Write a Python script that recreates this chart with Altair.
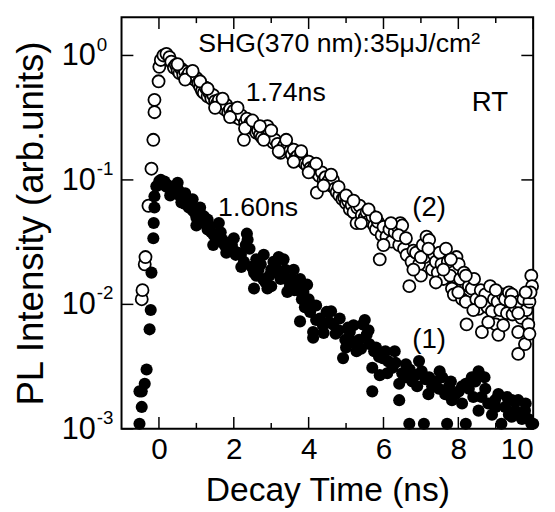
import altair as alt
import pandas as pd

# ---- data ----
# series (2): open circles
t2 = [
    -0.46, -0.44, -0.38, -0.36, -0.28, -0.20, -0.15, -0.12, -0.12, -0.01,
    0.01, 0.05, 0.12, 0.20, 0.28, 0.33, 0.40, 0.45, 0.50, 0.55,
    0.60, 0.65, 0.70, 0.75, 0.80, 0.85, 0.90, 0.95, 1.00, 1.05,
    1.10, 1.15, 1.20, 1.25, 1.30, 1.35, 1.40, 1.45, 1.50, 1.55,
    1.60, 1.65, 1.70, 1.75, 1.80, 1.85, 1.90, 1.95, 2.00, 2.05,
    2.10, 2.15, 2.20, 2.27, 2.30, 2.35, 2.40, 2.45, 2.50, 2.55,
    2.60, 2.65, 2.70, 2.75, 2.85, 2.90, 2.95, 3.00, 3.05, 3.10,
    3.17, 3.25, 3.30, 3.35, 3.43, 3.50, 3.55, 3.60, 3.65, 3.70,
    3.75, 3.80, 3.85, 3.90, 3.96, 4.00, 4.05, 4.10, 4.15, 4.22,
    4.22, 4.28, 4.35, 4.40, 4.45, 4.50, 4.55, 4.60, 4.65, 4.70,
    4.75, 4.82, 4.90, 4.95, 5.00, 5.05, 5.10, 5.15, 5.20, 5.28,
    5.30, 5.36, 5.42, 5.50, 5.55, 5.62, 5.70, 5.75, 5.80, 5.85,
    5.90, 5.95, 6.00, 6.08, 6.16, 6.22, 6.30, 6.38, 6.45, 6.50,
    6.42, 6.55, 6.62, 6.69, 6.75, 6.80, 6.87, 6.95, 7.00, 7.05,
    7.10, 7.15, 7.22, 7.30, 7.35, 7.40, 7.45, 7.50, 7.55, 7.60,
    7.67, 7.72, 7.78, 7.83, 7.88, 7.95, 8.01, 8.05, 8.10, 8.15,
    8.20, 8.22, 8.28, 8.36, 8.42, 8.48, 8.54, 8.60, 8.63, 8.72,
    8.78, 8.85, 8.90, 8.95, 9.00, 9.05, 9.07, 9.12, 9.18, 9.25,
    9.30, 9.35, 9.43, 9.45, 9.52, 9.60, 9.62, 9.60, 9.68, 9.74,
    9.78, 9.82, 9.87, 9.90, 9.95, 9.97, 9.93,
    0.50, 0.70, 0.90, 1.10, 1.30, 1.50, 1.70, 1.90, 2.10, 2.30,
    2.50, 2.70, 2.80, 3.00, 3.20, 3.40, 3.60, 3.80, 4.00, 4.20,
    4.40, 4.60, 4.80, 5.00, 5.20, 5.40, 5.60, 5.80, 6.00, 6.20,
    6.40, 6.60, 6.80, 7.00, 7.20, 7.40, 7.60, 7.80, 8.00, 8.20,
    8.40, 8.60, 8.80, 9.00, 9.20, 9.40, 9.60, 9.80, 9.90,
]
v2 = [
    0.011, 0.013, 0.021, 0.024, 0.062, 0.123, 0.21, 0.35, 0.44, 0.62,
    0.81, 0.92, 1.0, 1.03, 0.97, 0.89, 0.80, 0.84, 0.76, 0.72,
    0.78, 0.70, 0.74, 0.68, 0.72, 0.66, 0.70, 0.64, 0.66, 0.60,
    0.56, 0.52, 0.50, 0.55, 0.47, 0.50, 0.45, 0.48, 0.43, 0.41,
    0.44, 0.39, 0.41, 0.37, 0.40, 0.35, 0.37, 0.34, 0.36, 0.32,
    0.34, 0.31, 0.33, 0.21, 0.29, 0.31, 0.27, 0.29, 0.26, 0.27,
    0.24, 0.25, 0.23, 0.22, 0.26, 0.27, 0.24, 0.22, 0.20, 0.21,
    0.195, 0.165, 0.18, 0.19, 0.185, 0.17, 0.16, 0.175, 0.15, 0.155,
    0.145, 0.16, 0.14, 0.135, 0.13, 0.14, 0.125, 0.12, 0.128, 0.079,
    0.113, 0.108, 0.115, 0.10, 0.105, 0.095, 0.10, 0.09, 0.10, 0.085,
    0.08, 0.075, 0.07, 0.072, 0.065, 0.068, 0.058, 0.063, 0.055, 0.045,
    0.06, 0.062, 0.052, 0.05, 0.055, 0.047, 0.051, 0.043, 0.040, 0.046,
    0.023, 0.036, 0.042, 0.035, 0.040, 0.032, 0.038, 0.042, 0.045, 0.043,
    0.030, 0.028, 0.025, 0.014, 0.022, 0.027, 0.026, 0.021, 0.017, 0.030,
    0.024, 0.035, 0.033, 0.019, 0.025, 0.022, 0.018, 0.026, 0.021, 0.016,
    0.028, 0.022, 0.017, 0.0134, 0.012, 0.024, 0.021, 0.016, 0.011, 0.018,
    0.0105, 0.0069, 0.014, 0.0134, 0.016, 0.011, 0.0092, 0.013, 0.006, 0.012,
    0.0095, 0.014, 0.0088, 0.011, 0.0069, 0.0105, 0.0057, 0.009, 0.012, 0.011,
    0.0085, 0.0125, 0.012, 0.0083, 0.0095, 0.006, 0.0105, 0.004, 0.0078, 0.011,
    0.0048, 0.009, 0.0069, 0.0105, 0.017, 0.014, 0.0125,
    0.85, 0.64, 0.75, 0.62, 0.54, 0.38, 0.45, 0.32, 0.38, 0.26,
    0.30, 0.27, 0.21, 0.25, 0.17, 0.21, 0.14, 0.17, 0.115, 0.135,
    0.09, 0.11, 0.088, 0.075, 0.068, 0.045, 0.058, 0.05, 0.03, 0.045,
    0.036, 0.034, 0.019, 0.024, 0.028, 0.015, 0.019, 0.023, 0.0125, 0.017,
    0.009, 0.0105, 0.0072, 0.013, 0.0068, 0.0105, 0.0085, 0.0125, 0.0058,
]

# series (1): filled circles
t1 = [
    -0.52, -0.52, -0.46, -0.46, -0.38, -0.33, -0.25, -0.22, -0.20, -0.15,
    -0.14, -0.12, -0.12, -0.07, 0.01, 0.05, 0.10, 0.15, 0.20, 0.25,
    0.30, 0.35, 0.40, 0.45, 0.52, 0.55, 0.60, 0.65, 0.70, 0.75,
    0.80, 0.86, 0.90, 0.95, 1.00, 1.04, 1.10, 1.15, 1.20, 1.25,
    1.30, 1.35, 1.40, 1.47, 1.52, 1.58, 1.65, 1.70, 1.75, 1.84,
    1.90, 1.95, 2.00, 2.05, 2.12, 2.19, 2.27, 2.32, 2.37, 2.42,
    2.48, 2.54, 2.54, 2.60, 2.66, 2.72, 2.78, 2.85, 2.90, 2.95,
    3.00, 3.06, 3.12, 3.18, 3.25, 3.33, 3.38, 3.43, 3.50, 3.56,
    3.62, 3.70, 3.77, 3.77, 3.82, 3.86, 3.90, 3.96, 3.96, 4.04,
    4.12, 4.12, 4.20, 4.30, 4.38, 4.48, 4.55, 4.65, 4.72, 4.83,
    4.92, 4.98, 5.05, 5.10, 5.18, 5.28, 5.35, 5.45, 5.50, 5.55,
    5.62, 5.70, 5.70, 5.75, 5.80, 5.88, 5.98, 6.05, 6.12, 6.24,
    6.32, 6.42, 6.42, 6.50, 6.60, 6.69, 6.70, 6.77, 6.85, 6.95,
    7.02, 7.08, 7.12, 7.22, 7.30, 7.40, 7.48, 7.57, 7.65, 7.70,
    7.75, 7.83, 7.92, 8.01, 8.10, 8.20, 8.20, 8.28, 8.36, 8.45,
    8.54, 8.54, 8.62, 8.72, 8.80, 8.90, 8.98, 9.07, 9.15, 9.25,
    9.35, 9.43, 9.43, 9.52, 9.60, 9.70, 9.78, 9.87, 9.95, 10.0,
    0.30, 0.50, 0.70, 0.90, 1.00, 1.10, 1.30, 1.45, 1.60, 1.80,
    2.00, 2.20, 2.35, 2.60, 2.80, 3.00, 3.20, 3.40, 3.60, 3.80,
    4.00, 4.20, 4.40, 4.60, 4.80, 5.00, 5.20, 5.40, 5.60, 5.90,
    6.10, 6.30, 6.60, 6.90, 7.20, 7.50, 7.80, 8.10, 8.40, 8.70,
    9.00, 9.30, 9.60, 9.80,
]
v1 = [
    0.0011, 0.002, 0.0015, 0.002, 0.0023, 0.003, 0.0063, 0.009, 0.018, 0.034,
    0.045, 0.06, 0.074, 0.089, 0.098, 0.10, 0.092, 0.097, 0.088, 0.09,
    0.085, 0.088, 0.08, 0.084, 0.083, 0.075, 0.066, 0.07, 0.064, 0.068,
    0.06, 0.062, 0.057, 0.055, 0.05, 0.051, 0.047, 0.052, 0.051, 0.044,
    0.040, 0.042, 0.038, 0.036, 0.034, 0.037, 0.038, 0.033, 0.030, 0.031,
    0.028, 0.030, 0.027, 0.025, 0.026, 0.025, 0.022, 0.030, 0.033, 0.028,
    0.020, 0.018, 0.0134, 0.017, 0.019, 0.021, 0.016, 0.015, 0.0134, 0.017,
    0.019, 0.022, 0.020, 0.018, 0.016, 0.023, 0.019, 0.0126, 0.014, 0.016,
    0.013, 0.015, 0.016, 0.0073, 0.011, 0.0126, 0.0095, 0.0144, 0.010, 0.0087,
    0.006, 0.0054, 0.0075, 0.0077, 0.0068, 0.0087, 0.0072, 0.0069, 0.0058, 0.0077,
    0.0037, 0.0052, 0.0065, 0.006, 0.005, 0.0042, 0.0052, 0.0069, 0.0075, 0.0057,
    0.0048, 0.0031, 0.002, 0.0042, 0.0045, 0.0038, 0.0037, 0.0042, 0.0035, 0.0031,
    0.0034, 0.0023, 0.0017, 0.0028, 0.0033, 0.0011, 0.0030, 0.0024, 0.0027, 0.0035,
    0.0029, 0.0011, 0.0025, 0.0026, 0.0022, 0.0024, 0.0021, 0.0026, 0.0019, 0.0011,
    0.0022, 0.0017, 0.0019, 0.002, 0.0016, 0.0023, 0.0011, 0.0021, 0.0026, 0.0024,
    0.0029, 0.0014, 0.0018, 0.0021, 0.0016, 0.0013, 0.0017, 0.0019, 0.0011, 0.0015,
    0.0013, 0.0017, 0.00125, 0.0014, 0.0017, 0.0012, 0.0014, 0.0012, 0.0011, 0.0011,
    0.075, 0.095, 0.078, 0.07, 0.043, 0.06, 0.048, 0.03, 0.045, 0.026,
    0.034, 0.02, 0.037, 0.023, 0.025, 0.014, 0.024, 0.016, 0.019, 0.0125,
    0.011, 0.0098, 0.0059, 0.0088, 0.0062, 0.0045, 0.0068, 0.0044, 0.0062, 0.0027,
    0.0028, 0.0042, 0.0026, 0.0022, 0.0019, 0.0029, 0.0024, 0.0022, 0.0018, 0.0026,
    0.0015, 0.0018, 0.0013, 0.0016,
]

x_major = [0, 2, 4, 6, 8, 10]
x_minor = [1, 3, 5, 7, 9]
y_major = [1, 0.1, 0.01, 0.001]
y_base = ["10", "10", "10", "10"]
y_exp = ["0", "-1", "-2", "-3"]

ann_text = ["SHG(370 nm):35\u03bcJ/cm\u00b2", "1.74ns", "1.60ns", "RT", "(2)", "(1)"]
ann_t = [1.05, 2.32, 1.58, 8.36, 6.77, 6.77]
ann_v = [1.07, 0.43, 0.0515, 0.36, 0.051, 0.00446]
ann_fs = [27, 27, 27, 28, 28, 28]

W, H = 417, 417
FONT = "Liberation Sans"

xs = alt.Scale(domain=[-1, 10], nice=False, zero=False)
ys = alt.Scale(type="log", domain=[0.001, 2.03], nice=False)

X = alt.X("t:Q", scale=xs, axis=alt.Axis(
    values=x_major, title="Decay Time (ns)", ticks=False, domain=False, grid=False,
    labelFontSize=30, labelPadding=6, labelColor="black",
    titleFontSize=34, titlePadding=10, titleColor="black", titleFontWeight="normal",
    labelFont=FONT, titleFont=FONT))
Y = alt.Y("v:Q", scale=ys, axis=alt.Axis(
    labels=False, ticks=False, domain=False, grid=False,
    title="PL Intensity (arb.units)", titleFontSize=37, titlePadding=72,
    titleColor="black", titleFontWeight="normal", titleFont=FONT))

df2 = pd.DataFrame({"t": t2, "v": v2})
df1 = pd.DataFrame({"t": t1, "v": v1})

open_pts = alt.Chart(df2).mark_point(
    shape="circle", filled=True, fill="white", stroke="black",
    strokeWidth=1.8, size=150, opacity=1).encode(x=X, y=Y)
fill_pts = alt.Chart(df1).mark_circle(color="black", size=150, opacity=1).encode(x=X, y=Y)

dxM = pd.DataFrame({"t": x_major})
dxm = pd.DataFrame({"t": x_minor})
dyM = pd.DataFrame({"v": y_major})

def xticks(d, L):
    b = alt.Chart(d).mark_rule(color="black", strokeWidth=1.5).encode(
        x=X, y=alt.value(H), y2=alt.value(H - L))
    t = alt.Chart(d).mark_rule(color="black", strokeWidth=1.5).encode(
        x=X, y=alt.value(0), y2=alt.value(L))
    return b + t

ytl = alt.Chart(dyM).mark_rule(color="black", strokeWidth=1.5).encode(
    y=Y, x=alt.value(0), x2=alt.value(12))
ytr = alt.Chart(dyM).mark_rule(color="black", strokeWidth=1.5).encode(
    y=Y, x=alt.value(W), x2=alt.value(W - 12))

dyl = pd.DataFrame({"v": y_major, "base": y_base, "exp": y_exp})
ylab = alt.Chart(dyl).mark_text(
    align="right", baseline="alphabetic", dy=10, fontSize=31, font=FONT, color="black"
).encode(y=Y, x=alt.value(-26), text="base:N")
yexp = alt.Chart(dyl).mark_text(
    align="left", baseline="alphabetic", dy=-5, fontSize=19, font=FONT, color="black"
).encode(y=Y, x=alt.value(-25), text="exp:N")

dann = pd.DataFrame({"t": ann_t, "v": ann_v, "label": ann_text, "fs": ann_fs})
ann = alt.Chart(dann).mark_text(
    align="left", baseline="alphabetic", font=FONT, color="black"
).encode(x=X, y=Y, text="label:N", size=alt.Size("fs:Q", scale=None, legend=None))

chart = alt.layer(
    open_pts, fill_pts,
    xticks(dxM, 12), xticks(dxm, 6), ytl, ytr,
    ylab, yexp, ann,
).properties(width=W, height=H, background="white").configure_view(
    stroke="black", strokeWidth=2
)

chart.save("out.html", embed_options={"renderer": "svg", "actions": False})
